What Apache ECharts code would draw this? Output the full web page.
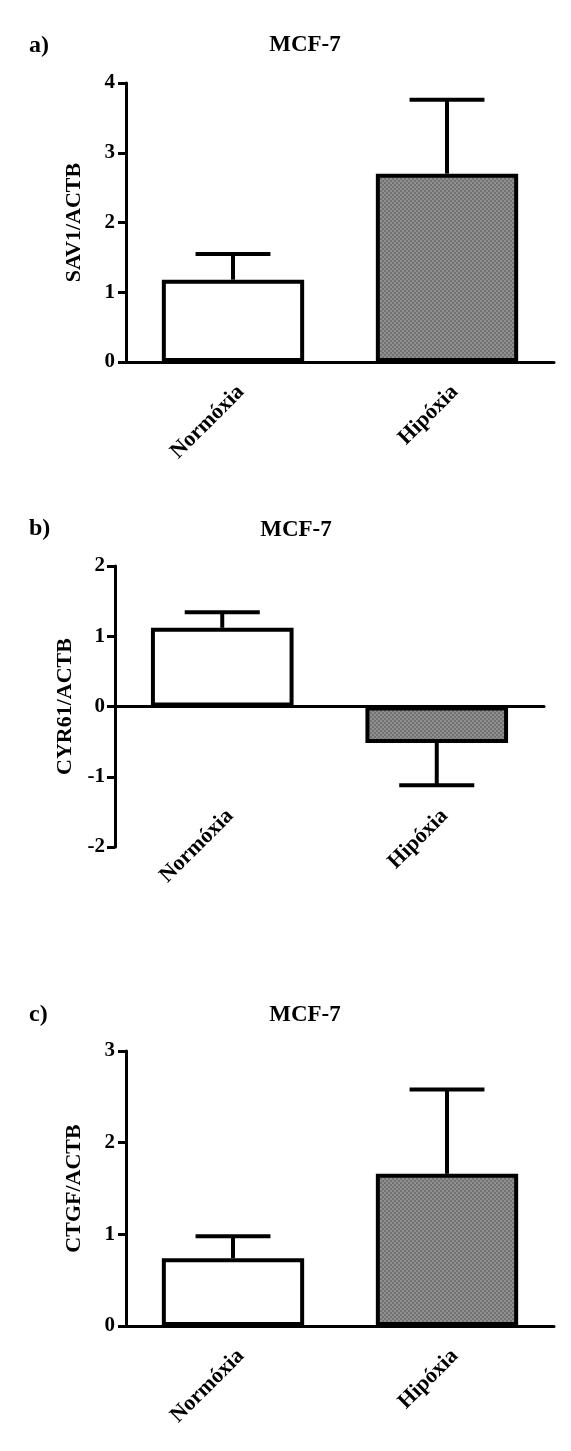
<!DOCTYPE html>
<html>
<head>
<meta charset="utf-8">
<script src="https://cdn.jsdelivr.net/npm/echarts@6/dist/echarts.min.js"></script>
<style>
  html, body { margin: 0; padding: 0; background: #ffffff; }
  #chart { width: 571px; height: 1451px; }
</style>
</head>
<body>
<div id="chart"></div>
<script>
// ---- data ----
const categories = ['Normóxia', 'Hipóxia'];

const panelLetters = ['a)', 'b)', 'c)'];
const panelTitles = ['MCF-7', 'MCF-7', 'MCF-7'];
const yNames = ['SAV1/ACTB', 'CYR61/ACTB', 'CTGF/ACTB'];

const sav1Mean = [1.18, 2.70];
const sav1Err = [0.37, 1.06];

const cyr61Mean = [1.12, -0.52];
const cyr61Err = [0.22, 0.60];

const ctgfMean = [0.74, 1.66];
const ctgfErr = [0.24, 0.92];

const yTicksA = [0, 1, 2, 3, 4];
const yTicksB = [-2, -1, 0, 1, 2];
const yTicksC = [0, 1, 2, 3];

// ---- styles ----
const FONT = '"Liberation Serif", "Times New Roman", serif';

function makePattern() {
  const c = document.createElement('canvas');
  c.width = 4; c.height = 4;
  const g = c.getContext('2d');
  g.fillStyle = '#727272';
  g.fillRect(0, 0, 4, 4);
  g.fillStyle = '#909090';
  g.fillRect(0, 0, 2, 2);
  g.fillRect(2, 2, 2, 2);
  return { image: c, repeat: 'repeat' };
}
const grayPattern = makePattern();
const fills = ['#ffffff', grayPattern];

const panels = [
  { mean: sav1Mean, err: sav1Err, ticks: yTicksA, grid: { left: 126, top: 83, width: 428, height: 279 }, labelMargin: 19, nameGap: 41, yLabelMargin: 11 },
  { mean: cyr61Mean, err: cyr61Err, ticks: yTicksB, grid: { left: 115, top: 566, width: 429, height: 281 }, labelMargin: -42, nameGap: 30, yLabelMargin: 10 },
  { mean: ctgfMean, err: ctgfErr, ticks: yTicksC, grid: { left: 126, top: 1051, width: 428, height: 275 }, labelMargin: 19, nameGap: 41, yLabelMargin: 11 }
];

const titleCenters = [
  { x: 305, y: 45 }, { x: 296, y: 530 }, { x: 305, y: 1015 }
];
const letterPos = [
  { x: 29, y: 46 }, { x: 29, y: 529 }, { x: 29, y: 1015 }
];

const grids = [], xAxes = [], yAxes = [], series = [], titles = [];

panels.forEach((p, i) => {
  grids.push(Object.assign({ outerBoundsMode: 'none', containLabel: false }, p.grid));
  xAxes.push({
    type: 'category',
    gridIndex: i,
    data: categories,
    z: 5,
    axisLine: { onZero: true, lineStyle: { color: '#000', width: 3 } },
    axisTick: { alignWithLabel: true, length: 9, lineStyle: { color: '#000', width: 3 } },
    axisLabel: {
      interval: 0,
      rotate: 45,
      margin: p.labelMargin,
      align: 'right',
      verticalAlign: 'top',
      color: '#000',
      fontFamily: FONT,
      fontWeight: 'bold',
      fontSize: 22
    },
    splitLine: { show: false }
  });
  const tk = p.ticks;
  yAxes.push({
    type: 'value',
    gridIndex: i,
    min: tk[0],
    max: tk[tk.length - 1],
    interval: tk[1] - tk[0],
    name: yNames[i],
    nameLocation: 'middle',
    nameGap: p.nameGap,
    nameTextStyle: { color: '#000', fontFamily: FONT, fontWeight: 'bold', fontSize: 22 },
    axisLine: { show: true, lineStyle: { color: '#000', width: 3 } },
    axisTick: { show: true, length: 8, lineStyle: { color: '#000', width: 3 } },
    axisLabel: { margin: p.yLabelMargin, color: '#000', fontFamily: FONT, fontWeight: 'bold', fontSize: 21 },
    splitLine: { show: false }
  });
  series.push({
    type: 'custom',
    xAxisIndex: i,
    yAxisIndex: i,
    z: 1,
    silent: true,
    data: categories.map((c, k) => [k, p.mean[k], p.err[k]]),
    renderItem: function (params, api) {
      const x = api.value(0), m = api.value(1), e = api.value(2);
      const sign = m >= 0 ? 1 : -1;
      const p0 = api.coord([x, m]);
      const p1 = api.coord([x, m + sign * e]);
      const half = api.size([1, 0])[0] * 0.175;
      const st = { stroke: '#000', lineWidth: 4, fill: null };
      return {
        type: 'group',
        children: [
          { type: 'line', shape: { x1: p0[0], y1: p0[1], x2: p1[0], y2: p1[1] }, style: st },
          { type: 'line', shape: { x1: p1[0] - half, y1: p1[1], x2: p1[0] + half, y2: p1[1] }, style: st }
        ]
      };
    }
  });
  series.push({
    type: 'bar',
    xAxisIndex: i,
    yAxisIndex: i,
    z: 2,
    barWidth: '66.5%',
    silent: true,
    data: p.mean.map((v, k) => ({ value: v, itemStyle: { color: fills[k] } })),
    itemStyle: { borderColor: '#000', borderWidth: 4 }
  });

  titles.push({
    text: panelTitles[i],
    left: titleCenters[i].x,
    top: titleCenters[i].y - 11.5,
    textAlign: 'center',
    padding: 0,
    textStyle: { color: '#000', fontFamily: FONT, fontWeight: 'bold', fontSize: 23 }
  });
  titles.push({
    text: panelLetters[i],
    left: letterPos[i].x,
    top: letterPos[i].y - 12,
    padding: 0,
    textStyle: { color: '#000', fontFamily: FONT, fontWeight: 'bold', fontSize: 24 }
  });
});

const chart = echarts.init(document.getElementById('chart'), null, { renderer: 'canvas' });
chart.setOption({
  backgroundColor: '#ffffff',
  animation: false,
  title: titles,
  grid: grids,
  xAxis: xAxes,
  yAxis: yAxes,
  series: series
});
</script>
</body>
</html>
